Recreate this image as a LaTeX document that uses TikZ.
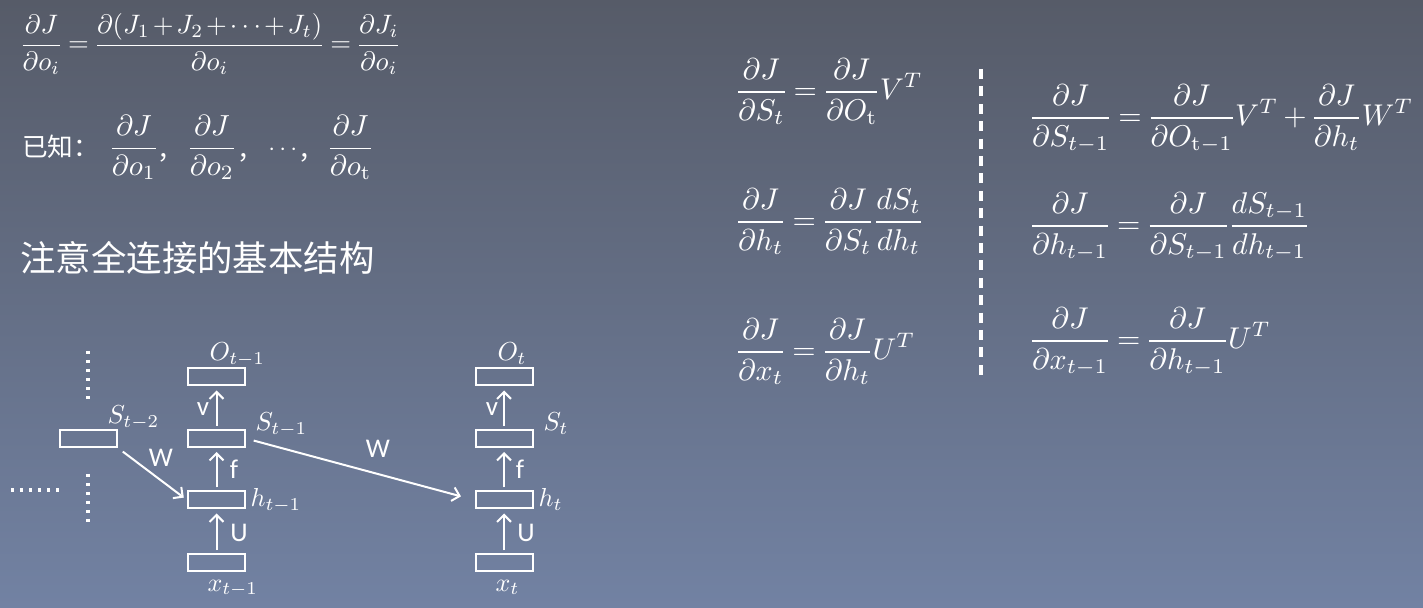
\documentclass[tikz,border=0pt]{standalone}
\usepackage{amsmath}
\usepackage{fontspec}
\newfontfamily\cjk{Noto Sans CJK SC}
\newfontfamily\calib{Carlito}
\usetikzlibrary{arrows.meta}
\definecolor{bgtop}{RGB}{86,91,104}
\definecolor{bgbot}{RGB}{114,130,163}
\nulldelimiterspace=0.8pt
\thickmuskip=4mu plus 2mu
\medmuskip=3mu plus 1mu
\begin{document}
\begin{tikzpicture}[x=0.5pt,y=-0.5pt,
  boxn/.style={draw=white, line width=1pt, minimum width=28.5pt, minimum height=8.5pt, inner sep=0pt},
  arr/.style={draw=white, line width=1pt, -{Straight Barb[length=3.5pt,width=7pt]}, shorten <=1.5pt, shorten >=2pt},
  mlab/.style={text=white, font=\normalsize, scale=1.3, inner sep=0pt, anchor=base west},
  slab/.style={text=white, font=\calib\fontsize{13.5}{16}\selectfont, inner sep=0pt},
  fmla/.style={text=white, font=\normalsize, scale=1.5, inner sep=0pt, anchor=base west},
  fmlb/.style={text=white, font=\normalsize, scale=1.45, inner sep=0pt, anchor=base west},
  cjkt/.style={text=white, font=\cjk\fontsize{12.8}{15}\selectfont, inner sep=0pt},
  dotl/.style={draw=white, line width=1.6pt, dash pattern=on 1.6pt off 2.9pt},
  dashl/.style={draw=white, line width=2pt, dash pattern=on 5pt off 3.7pt}
]
\shade[top color=bgtop, bottom color=bgbot] (0,0) rectangle (1423,608);
\useasboundingbox (0,0) rectangle (1423,608);

% top-left formulas
\node[fmlb, scale=0.92] (eq0) at (20,52) {$\medmuskip=2mu\displaystyle\frac{\partial J}{\partial o_i}=\frac{\partial(J_1+J_2+\cdots+J_t)}{\partial o_i}=\frac{\partial J_i}{\partial o_i}$};
\node[cjkt, anchor=west] (yz) at (22,147) {已知：};
\node[fmlb] (k1) at (109,155.5) {$\displaystyle\frac{\partial J}{\partial o_1}$};
\node[cjkt, anchor=base west] (c1) at (157,160) {，};
\node[fmlb] (k2) at (187,155.5) {$\displaystyle\frac{\partial J}{\partial o_2}$};
\node[cjkt, anchor=base west] (c2) at (237,160) {，};
\node[fmlb, scale=0.85] (kd) at (268,155.5) {$\cdots$};
\node[cjkt, anchor=base west] (c3) at (298,160) {，};
\node[fmlb] (k3) at (327,155.5) {$\displaystyle\frac{\partial J}{\partial o_{\mathrm{t}}}$};
\node[text=white, font=\cjk\fontsize{17.7}{21}\selectfont, inner sep=0pt, anchor=west] (head) at (20,258) {注意全连接的基本结构};

% right formulas
\node[fmla] (r1) at (735,99.5) {$\displaystyle\frac{\partial J}{\partial S_t}=\frac{\partial J}{\partial O_{\mathrm{t}}}V^T$};
\node[fmla] (r2) at (735,229.5) {$\displaystyle\frac{\partial J}{\partial h_t}=\frac{\partial J}{\partial S_t}\frac{dS_t}{dh_t}$};
\node[fmla] (r3) at (735,359.5) {$\displaystyle\frac{\partial J}{\partial x_t}=\frac{\partial J}{\partial h_t}U^T$};
\node[fmla] (s1) at (1029,125.5) {$\displaystyle\frac{\partial J}{\partial S_{t-1}}=\frac{\partial J}{\partial O_{\mathrm{t-1}}}V^T+\frac{\partial J}{\partial h_t}W^T$};
\node[fmla] (s2) at (1029,233.5) {$\displaystyle\frac{\partial J}{\partial h_{t-1}}=\frac{\partial J}{\partial S_{t-1}}\frac{dS_{t-1}}{dh_{t-1}}$};
\node[fmla] (s3) at (1029,348.5) {$\displaystyle\frac{\partial J}{\partial x_{t-1}}=\frac{\partial J}{\partial h_{t-1}}U^T$};
\coordinate (dtop) at (981,69);
\coordinate (dbot) at (981,382);
\draw[dashl] (dtop) -- (dbot);

% diagram boxes
\node[boxn] (st2) at (88.5,438.5) {};
\node[boxn] (oa) at (216.5,377) {};
\node[boxn] (sa) at (216.5,438.5) {};
\node[boxn] (ha) at (216.5,500) {};
\node[boxn] (xa) at (216.5,562.5) {};
\node[boxn] (ob) at (504,377) {};
\node[boxn] (sb) at (504,438.5) {};
\node[boxn] (hb) at (504,500) {};
\node[boxn] (xb) at (504,562.5) {};

% dotted lines
\coordinate (v1a) at (88,351); \coordinate (v1b) at (88,399);
\coordinate (v2a) at (88,474); \coordinate (v2b) at (88,522);
\coordinate (h1a) at (11,490); \coordinate (h1b) at (59,490);
\draw[dotl] (v1a) -- (v1b);
\draw[dotl] (v2a) -- (v2b);
\draw[dotl] (h1a) -- (h1b);

% arrows
\draw[arr] (xa) -- (ha);
\draw[arr] (ha) -- (sa);
\draw[arr] (sa) -- (oa);
\draw[arr] (xb) -- (hb);
\draw[arr] (hb) -- (sb);
\draw[arr] (sb) -- (ob);
\draw[arr, shorten <=3pt, shorten >=2pt] (st2.south east) -- (ha.west);
\draw[arr, shorten <=4pt, shorten >=7pt] (sa.east) -- (hb.west);

% labels
\node[mlab] (lo1) at (209,361) {$O_{t-1}$};
\node[mlab] (ls1) at (255,431) {$S_{t-1}$};
\node[mlab] (ls2) at (107,424) {$S_{t-2}$};
\node[mlab] (lh1) at (250,507) {$h_{t-1}$};
\node[mlab] (lx1) at (207,591) {$x_{t-1}$};
\node[mlab] (lo2) at (497,361) {$O_t$};
\node[mlab] (ls3) at (543,431) {$S_t$};
\node[mlab] (lh2) at (538,507) {$h_t$};
\node[mlab] (lx2) at (495,591) {$x_t$};
\node[slab] (lv1) at (203,409) {v};
\node[slab] (lf1) at (234,469) {f};
\node[slab] (lu1) at (239,533) {U};
\node[slab] (lv2) at (492,409) {v};
\node[slab] (lf2) at (520,469) {f};
\node[slab] (lu2) at (526,533) {U};
\node[slab] (lw1) at (161,458) {W};
\node[slab] (lw2) at (378,449) {W};
\end{tikzpicture}
\end{document}
